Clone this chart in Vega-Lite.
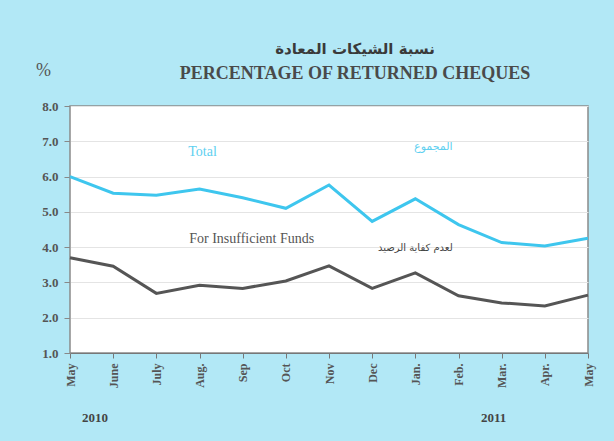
{
  "$schema": "https://vega.github.io/schema/vega-lite/v6.json",
  "width": 518,
  "height": 247,
  "autosize": {"type": "none"},
  "padding": {"left": 70, "top": 106, "right": 26, "bottom": 88},
  "background": "#b2e8f6",
  "view": {"fill": "white", "stroke": "#8a8a8a", "strokeWidth": 1.5},
  "title": {
    "text": "نسبة الشيكات المعادة",
    "subtitle": "PERCENTAGE OF RETURNED CHEQUES",
    "anchor": "middle",
    "dx": 26,
    "offset": -22,
    "font": "DejaVu Sans",
    "fontSize": 15,
    "fontWeight": "bold",
    "color": "#3a3a3a",
    "subtitleFont": "Liberation Serif",
    "subtitleFontSize": 18,
    "subtitleFontWeight": "bold",
    "subtitleColor": "#4a4a4a",
    "subtitlePadding": 8
  },
  "datasets": {
    "series": [
      {"month": "May 2010", "series": "Total", "value": 6.0},
      {"month": "June 2010", "series": "Total", "value": 5.53},
      {"month": "July 2010", "series": "Total", "value": 5.47},
      {"month": "Aug. 2010", "series": "Total", "value": 5.65},
      {"month": "Sep 2010", "series": "Total", "value": 5.4},
      {"month": "Oct 2010", "series": "Total", "value": 5.1},
      {"month": "Nov 2010", "series": "Total", "value": 5.76},
      {"month": "Dec 2010", "series": "Total", "value": 4.73},
      {"month": "Jan. 2011", "series": "Total", "value": 5.37},
      {"month": "Feb. 2011", "series": "Total", "value": 4.64},
      {"month": "Mar. 2011", "series": "Total", "value": 4.13},
      {"month": "Apr. 2011", "series": "Total", "value": 4.03},
      {"month": "May 2011", "series": "Total", "value": 4.25},
      {"month": "May 2010", "series": "For Insufficient Funds", "value": 3.7},
      {"month": "June 2010", "series": "For Insufficient Funds", "value": 3.46},
      {"month": "July 2010", "series": "For Insufficient Funds", "value": 2.69},
      {"month": "Aug. 2010", "series": "For Insufficient Funds", "value": 2.92},
      {"month": "Sep 2010", "series": "For Insufficient Funds", "value": 2.83},
      {"month": "Oct 2010", "series": "For Insufficient Funds", "value": 3.04},
      {"month": "Nov 2010", "series": "For Insufficient Funds", "value": 3.47},
      {"month": "Dec 2010", "series": "For Insufficient Funds", "value": 2.83},
      {"month": "Jan. 2011", "series": "For Insufficient Funds", "value": 3.27},
      {"month": "Feb. 2011", "series": "For Insufficient Funds", "value": 2.62},
      {"month": "Mar. 2011", "series": "For Insufficient Funds", "value": 2.42},
      {"month": "Apr. 2011", "series": "For Insufficient Funds", "value": 2.33},
      {"month": "May 2011", "series": "For Insufficient Funds", "value": 2.64}
    ],
    "labels": [
      {"month": "Aug. 2010", "value": 6.69, "label": "Total", "series": "Total"},
      {"month": "Jan. 2011", "value": 6.84, "label": "المجموع", "series": "Total"},
      {"month": "Sep 2010", "value": 4.22, "label": "For Insufficient Funds", "series": "For Insufficient Funds"},
      {"month": "Jan. 2011", "value": 3.97, "label": "لعدم كفاية الرصيد", "series": "For Insufficient Funds"},
      {"month": "May 2010", "value": -0.84, "label": "2010", "series": "year"},
      {"month": "Mar. 2011", "value": -0.84, "label": "2011", "series": "year"}
    ]
  },
  "encoding": {
    "x": {
      "field": "month",
      "type": "ordinal",
      "sort": null,
      "scale": {"type": "point", "padding": 0},
      "axis": {
        "title": null,
        "labelExpr": "split(datum.value, ' ')[0]",
        "labelAngle": -90,
        "labelAlign": "right",
        "labelBaseline": "middle",
        "labelFont": "Liberation Serif",
        "labelFontWeight": "bold",
        "labelFontSize": 12,
        "labelColor": "#555555",
        "labelPadding": 5,
        "tickColor": "#777777",
        "tickSize": 5,
        "domainColor": "#777777",
        "grid": false
      }
    },
    "y": {
      "field": "value",
      "type": "quantitative",
      "scale": {"domain": [1, 8], "nice": false, "zero": false},
      "axis": {
        "values": [1, 2, 3, 4, 5, 6, 7, 8],
        "format": ".1f",
        "title": "%",
        "titleAngle": 0,
        "titleX": -27,
        "titleY": -36,
        "titleAlign": "center",
        "titleBaseline": "middle",
        "titleFont": "Liberation Serif",
        "titleFontWeight": "normal",
        "titleFontSize": 18,
        "titleColor": "#555555",
        "labelFont": "Liberation Serif",
        "labelFontWeight": "bold",
        "labelFontSize": 13,
        "labelColor": "#555555",
        "labelPadding": 6,
        "tickColor": "#888888",
        "tickSize": 6,
        "domain": false,
        "grid": true,
        "gridColor": "#e4e4e4",
        "gridWidth": 1
      }
    }
  },
  "layer": [
    {
      "data": {"name": "series"},
      "mark": {"type": "line", "strokeWidth": 3},
      "encoding": {
        "color": {
          "field": "series",
          "type": "nominal",
          "scale": {"domain": ["Total", "For Insufficient Funds"], "range": ["#3ec6ee", "#555555"]},
          "legend": null
        }
      }
    },
    {
      "data": {"name": "labels"},
      "transform": [{"filter": "datum.label == 'Total'"}],
      "mark": {"type": "text", "font": "Liberation Serif", "fontSize": 14, "color": "#5fd0f0", "dx": 3},
      "encoding": {"text": {"field": "label"}}
    },
    {
      "data": {"name": "labels"},
      "transform": [{"filter": "datum.label == 'المجموع'"}],
      "mark": {"type": "text", "font": "DejaVu Sans", "fontSize": 11, "color": "#5fd0f0", "dx": 18},
      "encoding": {"text": {"field": "label"}}
    },
    {
      "data": {"name": "labels"},
      "transform": [{"filter": "datum.label == 'For Insufficient Funds'"}],
      "mark": {"type": "text", "font": "Liberation Serif", "fontSize": 14, "color": "#555555", "dx": 9},
      "encoding": {"text": {"field": "label"}}
    },
    {
      "data": {"name": "labels"},
      "transform": [{"filter": "datum.label == 'لعدم كفاية الرصيد'"}],
      "mark": {"type": "text", "font": "DejaVu Sans", "fontSize": 10, "color": "#444444", "dx": 0},
      "encoding": {"text": {"field": "label"}}
    },
    {
      "data": {"name": "labels"},
      "transform": [{"filter": "datum.label == '2010'"}],
      "mark": {"type": "text", "font": "Liberation Serif", "fontSize": 13, "fontWeight": "bold", "color": "#444444", "dx": 25},
      "encoding": {"text": {"field": "label"}}
    },
    {
      "data": {"name": "labels"},
      "transform": [{"filter": "datum.label == '2011'"}],
      "mark": {"type": "text", "font": "Liberation Serif", "fontSize": 13, "fontWeight": "bold", "color": "#444444", "dx": -8},
      "encoding": {"text": {"field": "label"}}
    }
  ]
}
